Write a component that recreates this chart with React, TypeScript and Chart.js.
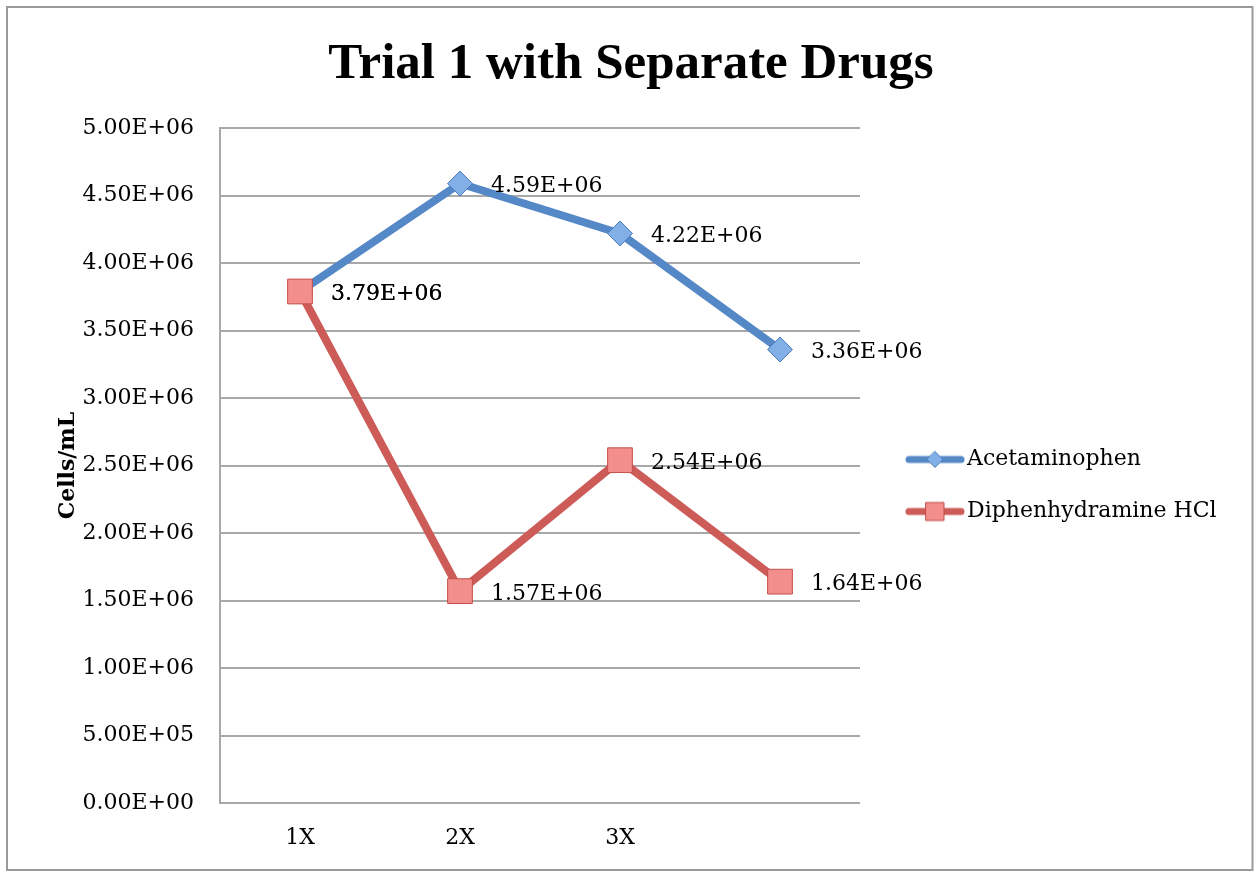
import React, { useEffect, useRef } from "react";
import { Chart, registerables } from "chart.js";

Chart.register(...registerables);

const categories = ["1X", "2X", "3X", ""];
const seriesNames = ["Acetaminophen", "Diphenhydramine HCl"];
const acetaminophen = [3.79e6, 4.59e6, 4.22e6, 3.36e6];
const diphenhydramine = [3.79e6, 1.57e6, 2.54e6, 1.64e6];
const yMin = 0;
const yMax = 5e6;
const yStep = 5e5;
const chartTitle = "Trial 1 with Separate Drugs";
const yTitle = "Cells/mL";

const BLUE_LINE = "#5588C6";
const BLUE_FILL = "#82AFE6";
const BLUE_EDGE = "#4B7DBD";
const RED_LINE = "#CD5C58";
const RED_FILL = "#F28E8B";
const RED_EDGE = "#C24F4B";
const SERIF = "'DejaVu Serif', serif";
const LEGEND_WIDTH = 374;

function sci(v: number): string {
  if (Math.abs(v) < 1e-9) return "0.00E+00";
  let e = Math.floor(Math.log10(Math.abs(v)));
  let m = v / Math.pow(10, e);
  if (Math.abs(m) >= 9.995) {
    m /= 10;
    e += 1;
  }
  return m.toFixed(2) + "E" + (e >= 0 ? "+" : "-") + String(Math.abs(e)).padStart(2, "0");
}

function legendIcon(kind: "diamond" | "square", line: string, fill: string, edge: string) {
  const c = document.createElement("canvas");
  c.width = 84;
  c.height = 26;
  const g = c.getContext("2d")!;
  g.lineCap = "round";
  g.strokeStyle = line;
  g.lineWidth = 7;
  g.beginPath();
  g.moveTo(28, 13);
  g.lineTo(80, 13);
  g.stroke();
  const cx = 54;
  const cy = 13;
  g.fillStyle = fill;
  g.strokeStyle = edge;
  g.lineWidth = 1;
  g.beginPath();
  if (kind === "diamond") {
    g.moveTo(cx, cy - 8);
    g.lineTo(cx + 8, cy);
    g.lineTo(cx, cy + 8);
    g.lineTo(cx - 8, cy);
    g.closePath();
  } else {
    g.rect(cx - 9, cy - 9, 18, 18);
  }
  g.fill();
  g.stroke();
  return c;
}

const framePlugin = {
  id: "frame",
  beforeDraw(chart: any) {
    const ctx = chart.ctx;
    ctx.save();
    ctx.fillStyle = "#ffffff";
    ctx.fillRect(0, 0, chart.width, chart.height);
    ctx.strokeStyle = "#9A9A9A";
    ctx.lineWidth = 2;
    ctx.strokeRect(7, 7, 1245.5, 863);
    ctx.restore();
  },
};

const legendWidthPlugin = {
  id: "legendWidth",
  afterInit(chart: any) {
    const lg = chart.legend;
    if (!lg || lg.__patched) return;
    const orig = lg.fit;
    lg.fit = function (this: any) {
      orig.call(this);
      this.width = LEGEND_WIDTH;
    };
    lg.__patched = true;
  },
};

const legendShiftPlugin = {
  id: "legendShift",
  afterLayout(chart: any) {
    const lg = chart.legend;
    if (lg) {
      lg.top += 59;
      lg.bottom += 59;
    }
  },
};

const valueLabelPlugin = {
  id: "valueLabels",
  afterDatasetsDraw(chart: any) {
    const ctx = chart.ctx;
    ctx.save();
    ctx.font = `22px ${SERIF}`;
    ctx.fillStyle = "#000000";
    ctx.textAlign = "left";
    ctx.textBaseline = "middle";
    chart.data.datasets.forEach((ds: any, di: number) => {
      const meta = chart.getDatasetMeta(di);
      meta.data.forEach((pt: any, i: number) => {
        const v = ds.data[i];
        if (v == null) return;
        ctx.fillText(sci(v), pt.x + 31, pt.y + 3);
      });
    });
    ctx.restore();
  },
};

export default function App() {
  const ref = useRef<HTMLCanvasElement | null>(null);

  useEffect(() => {
    if (!ref.current) return;
    const icons = [
      legendIcon("diamond", BLUE_LINE, BLUE_FILL, BLUE_EDGE),
      legendIcon("square", RED_LINE, RED_FILL, RED_EDGE),
    ];
    const chart = new Chart(ref.current, {
      type: "line",
      data: {
        labels: categories,
        datasets: [
          {
            label: seriesNames[0],
            data: acetaminophen,
            borderColor: BLUE_LINE,
            backgroundColor: BLUE_FILL,
            borderWidth: 8,
            borderJoinStyle: "round",
            borderCapStyle: "round",
            pointStyle: "rectRot",
            pointRadius: 12.5,
            pointBackgroundColor: BLUE_FILL,
            pointBorderColor: BLUE_EDGE,
            pointBorderWidth: 1,
            tension: 0,
            order: 1,
            clip: false,
          } as any,
          {
            label: seriesNames[1],
            data: diphenhydramine,
            borderColor: RED_LINE,
            backgroundColor: RED_FILL,
            borderWidth: 8,
            borderJoinStyle: "round",
            borderCapStyle: "round",
            pointStyle: "rect",
            pointRadius: 17.5,
            pointBackgroundColor: RED_FILL,
            pointBorderColor: RED_EDGE,
            pointBorderWidth: 1,
            tension: 0,
            order: 0,
            clip: false,
          } as any,
        ],
      },
      options: {
        responsive: false,
        animation: false,
        events: [],
        layout: { padding: { left: 28, right: 20, top: 0, bottom: 18 } },
        plugins: {
          title: {
            display: true,
            text: chartTitle,
            color: "#000000",
            font: { family: "'Liberation Serif', serif", size: 51, weight: "bold" },
            padding: { top: 34, bottom: 33 },
          },
          legend: {
            display: true,
            position: "right",
            align: "center",
            labels: {
              usePointStyle: true,
              pointStyleWidth: 66,
              padding: 30,
              color: "#000000",
              font: { family: SERIF, size: 22 },
              generateLabels: () =>
                seriesNames.map((name, i) => ({
                  text: name,
                  pointStyle: icons[i],
                  fillStyle: "transparent",
                  strokeStyle: "transparent",
                  lineWidth: 0,
                  hidden: false,
                  datasetIndex: i,
                  fontColor: "#000000",
                })) as any,
            },
          },
          tooltip: { enabled: false },
        },
        scales: {
          x: {
            type: "category",
            offset: true,
            grid: { display: false, drawTicks: false },
            border: { display: false },
            ticks: {
              color: "#000000",
              font: { family: SERIF, size: 22 },
              padding: 22,
              maxRotation: 0,
              autoSkip: false,
            },
            afterFit: (s: any) => {
              s.height = 50;
            },
          },
          y: {
            min: yMin,
            max: yMax,
            grid: { color: "#A8A8A8", lineWidth: 2, drawTicks: false },
            border: { display: true, color: "#A8A8A8", width: 2 },
            ticks: {
              stepSize: yStep,
              color: "#000000",
              font: { family: SERIF, size: 22 },
              padding: 26,
              callback: (v: any) => sci(Number(v)),
            },
            title: {
              display: true,
              text: yTitle,
              color: "#000000",
              font: { family: SERIF, size: 22, weight: "bold" },
              padding: { top: 27.5, bottom: 0 },
            },
            afterFit: (s: any) => {
              s.width = 192;
            },
          },
        },
      },
      plugins: [framePlugin, legendWidthPlugin, legendShiftPlugin, valueLabelPlugin],
    });
    return () => chart.destroy();
  }, []);

  return (
    <div style={{ position: "fixed", left: 0, top: 0, width: 1254, height: 871, background: "#fff" }}>
      <canvas ref={ref} width={1254} height={871} style={{ display: "block" }} />
    </div>
  );
}
